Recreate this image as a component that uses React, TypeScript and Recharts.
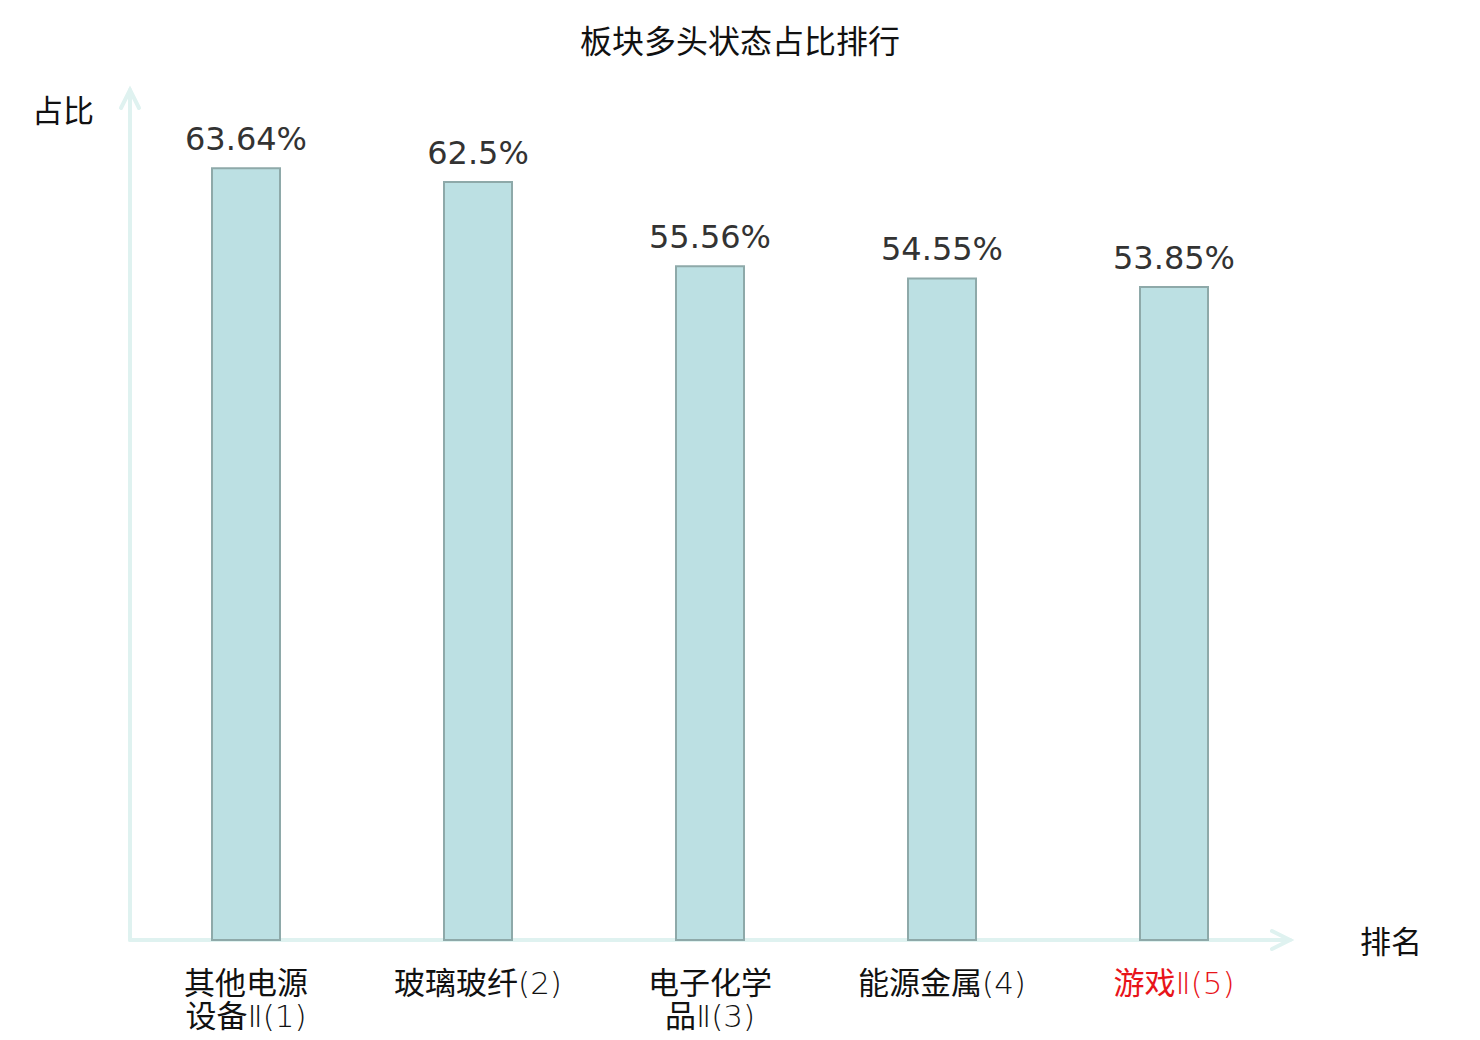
import { BarChart, Bar, XAxis, YAxis, LabelList } from "recharts";

const categories = ["其他电源设备Ⅱ(1)", "玻璃玻纤(2)", "电子化学品Ⅱ(3)", "能源金属(4)", "游戏Ⅱ(5)"];
const ratios = [63.64, 62.5, 55.56, 54.55, 53.85];
const highlighted = ["游戏Ⅱ(5)"];

const chartData = categories.map((name, i) => ({ name, value: ratios[i] }));

const W = 1480;
const H = 1040;
const MARGIN = { top: 91, right: 190, bottom: 70, left: 130 };
const X_AXIS_H = 30;

const FONT = '"DejaVu Sans", "Noto Sans CJK SC", sans-serif';
const AXIS_COLOR = "#dff2f0";

const isCjk = (c: string) => /[\u4e00-\u9fff]/.test(c);

// break after 4 CJK chars when the label has more than 4
function splitLabel(label: string): string[] {
  const chars = [...label];
  if (chars.filter(isCjk).length <= 4) return [label];
  let count = 0;
  for (let i = 0; i < chars.length; i++) {
    if (isCjk(chars[i])) count++;
    if (count === 4) return [chars.slice(0, i + 1).join(""), chars.slice(i + 1).join("")];
  }
  return [label];
}

// group a line into cjk / latin runs so the latin part can be drawn lighter
function runs(line: string) {
  const out: { text: string; cjk: boolean }[] = [];
  for (const c of [...line]) {
    const cjk = isCjk(c);
    const last = out[out.length - 1];
    if (last && last.cjk === cjk) last.text += c;
    else out.push({ text: c, cjk });
  }
  return out;
}

function CategoryTick(props: any) {
  const { x, y, payload } = props;
  const lines = splitLabel(payload.value);
  const color = highlighted.includes(payload.value) ? "#e8141a" : "#111";
  return (
    <g>
      {lines.map((l, i) => (
        <text key={i} x={x} y={y + 52 + i * 33} textAnchor="middle" fontSize={31} fill={color} fontFamily={FONT}>
          {runs(l).map((r, j) => (
            <tspan key={j} fontWeight={r.cjk ? 400 : 200}>
              {r.text}
            </tspan>
          ))}
        </text>
      ))}
    </g>
  );
}

function Arrows() {
  const x0 = MARGIN.left;
  const y0 = H - MARGIN.bottom - X_AXIS_H;
  const yTop = MARGIN.top - 1;
  const xEnd = W - MARGIN.right;
  return (
    <g stroke={AXIS_COLOR} strokeWidth={4} fill="none" strokeLinecap="round">
      <line x1={x0} y1={y0} x2={x0} y2={yTop} />
      <polyline points={`${x0 - 9},${yTop + 18} ${x0},${yTop} ${x0 + 9},${yTop + 18}`} />
      <line x1={x0} y1={y0} x2={xEnd} y2={y0} />
      <polyline points={`${xEnd - 18},${y0 - 9} ${xEnd},${y0} ${xEnd - 18},${y0 + 9}`} />
    </g>
  );
}

export default function App() {
  return (
    <div style={{ position: "absolute", left: 0, top: 0, width: W, height: H, background: "#fff" }}>
      <BarChart width={W} height={H} data={chartData} margin={MARGIN} barSize={68}>
        <text x={740} y={53} textAnchor="middle" fontSize={32} fill="#111" fontFamily={FONT}>
          板块多头状态占比排行
        </text>
        <text x={63} y={122} textAnchor="middle" fontSize={31} fill="#111" fontFamily={FONT}>
          占比
        </text>
        <text x={1391} y={953} textAnchor="middle" fontSize={31} fill="#111" fontFamily={FONT}>
          排名
        </text>
        <Arrows />
        <XAxis
          dataKey="name"
          height={X_AXIS_H}
          axisLine={false}
          tickLine={false}
          tickSize={0}
          interval={0}
          tick={<CategoryTick />}
        />
        <YAxis hide domain={[0, 70]} width={0} />
        <Bar dataKey="value" fill="#bce0e3" stroke="#8ea9a9" strokeWidth={2} isAnimationActive={false}>
          <LabelList
            dataKey="value"
            position="top"
            offset={18}
            formatter={(v: any) => `${v}%`}
            style={{ fontSize: 32, fill: "#333", fontFamily: FONT }}
          />
        </Bar>
      </BarChart>
    </div>
  );
}
